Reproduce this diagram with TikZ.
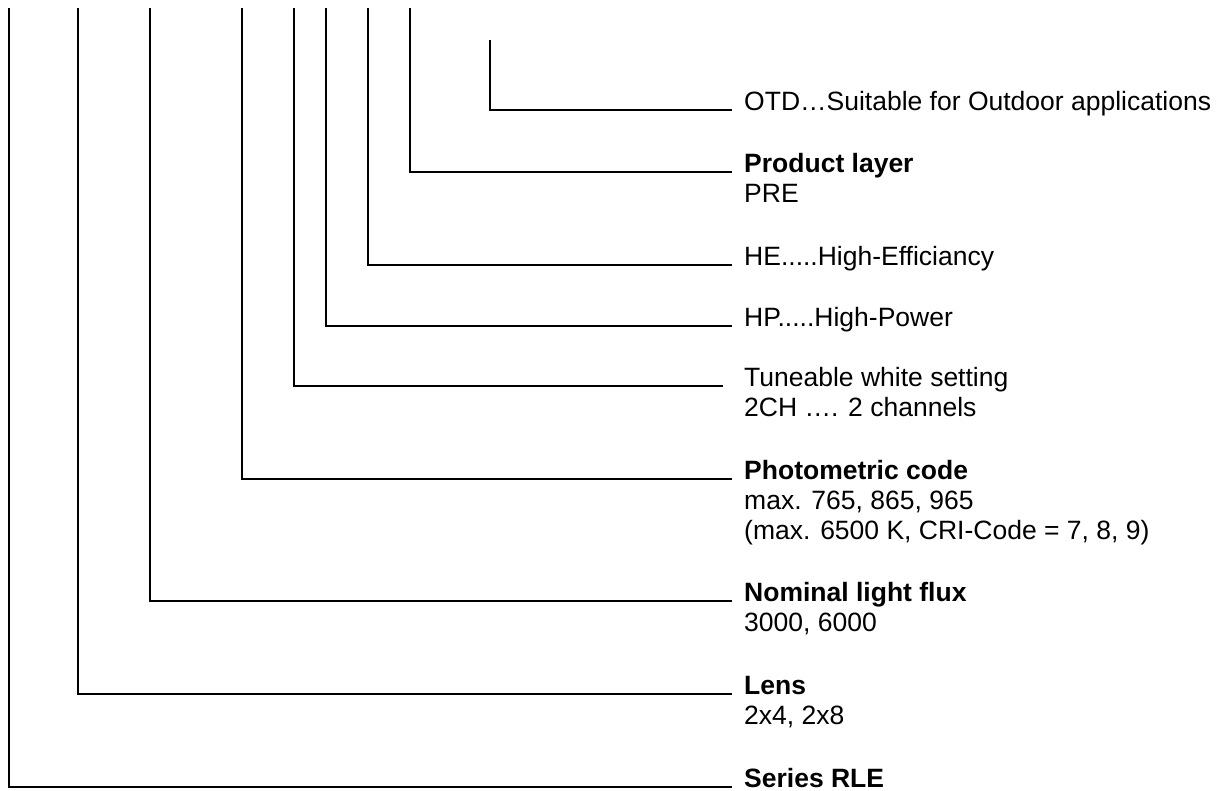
\documentclass[tikz,border=0pt]{standalone}
\usepackage{fontspec}
\setmainfont{Liberation Sans}
\usetikzlibrary{positioning, calc}
\newcommand{\desc}[1]{\begin{tabular}[t]{@{}l@{}}#1\end{tabular}}

\begin{document}
\begin{tikzpicture}[x=1pt, y=-1pt,
    lbl/.style={anchor=base west, inner sep=0pt,
                font=\fontsize{26.5}{30}\selectfont},
    lead/.style={line width=1.6pt}]
    \useasboundingbox (0,0) rectangle (1226,790);
    % code descriptions
    \node[lbl] (otd) at (744,110) {OTD…Suitable for Outdoor applications};
    \node[lbl] (layer) at (744,172) {\desc{\textbf{Product layer}\\PRE}};
    \node[lbl] (he) at (744,265) {HE.....High-Efficiancy};
    \node[lbl] (hp) at (744,326) {HP.....High-Power};
    \node[lbl] (tw) at (744,386) {\desc{Tuneable white setting\\2CH …. 2 channels}};
    \node[lbl] (photo) at (744,479) {\desc{\textbf{Photometric code}\\max. 765, 865, 965\\(max. 6500 K, CRI-Code = 7, 8, 9)}};
    \node[lbl] (flux) at (744,601) {\desc{\textbf{Nominal light flux}\\3000, 6000}};
    \node[lbl] (lens) at (744,694) {\desc{\textbf{Lens}\\2x4, 2x8}};
    \node[lbl] (series) at (744,787) {\textbf{Series RLE}};
    % tops of the leader lines
    \coordinate (tseries) at (9,8);
    \coordinate (tlens) at (78,8);
    \coordinate (tflux) at (150,8);
    \coordinate (tphoto) at (242,8);
    \coordinate (ttw) at (294,8);
    \coordinate (thp) at (326,8);
    \coordinate (the) at (368,8);
    \coordinate (tlayer) at (410,8);
    \coordinate (totd) at (490,40);
    \draw[lead] (tseries) |- ($(series.base west)+(-12,0)$);
    \draw[lead] (tlens) |- ($(lens.base west)+(-12,0)$);
    \draw[lead] (tflux) |- ($(flux.base west)+(-12,0)$);
    \draw[lead] (tphoto) |- ($(photo.base west)+(-12,0)$);
    \draw[lead] (ttw) |- ($(tw.base west)+(-21,0)$);
    \draw[lead] (thp) |- ($(hp.base west)+(-12,0)$);
    \draw[lead] (the) |- ($(he.base west)+(-12,0)$);
    \draw[lead] (tlayer) |- ($(layer.base west)+(-12,0)$);
    \draw[lead] (totd) |- ($(otd.base west)+(-12,0)$);
\end{tikzpicture}
\end{document}
